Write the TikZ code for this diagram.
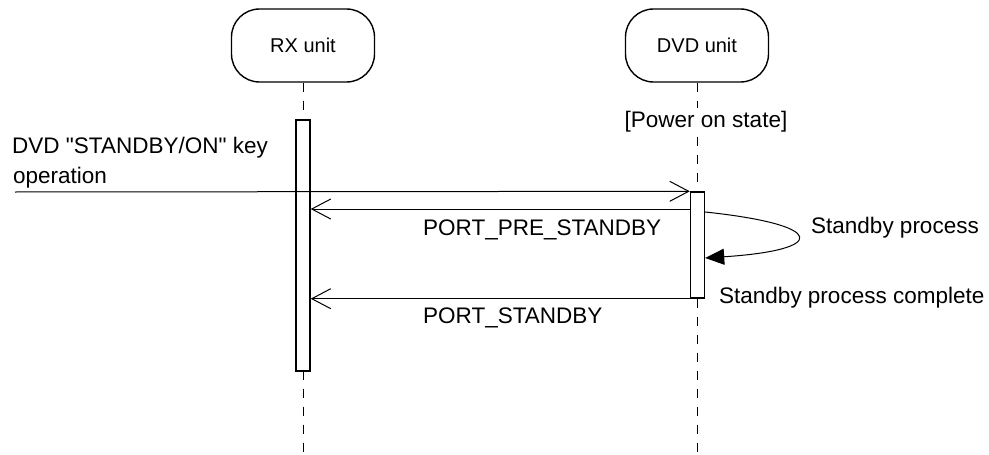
\documentclass[tikz,border=0pt]{standalone}
\usepackage{fontspec}
\setmainfont{Liberation Sans}
\usetikzlibrary{arrows.meta, positioning, calc}

\begin{document}
\begin{tikzpicture}[
    x=1pt, y=-1pt,
    unit/.style={rectangle, rounded corners=28pt, minimum width=143pt, minimum height=73pt, text centered, draw=black, line width=1.4pt, font=\fontsize{20}{24}\selectfont},
    bar/.style={rectangle, minimum width=14pt, inner sep=0pt, draw=black, fill=white, line width=1.4pt},
    lifeline/.style={line width=1pt, dash pattern=on 9pt off 9pt},
    msg/.style={line width=1pt, -{Straight Barb[length=19pt, width=20pt]}},
    selfmsg/.style={line width=1pt, -{Triangle[length=19pt, width=16pt]}},
    txt/.style={font=\fontsize{22.5}{30}\selectfont, inner sep=0pt, anchor=base west}
]
    \useasboundingbox (0,0) rectangle (989,455);

    % units and lifelines
    \node (rx) [unit] at (303,45.5) {RX unit};
    \node (dvd) [unit] at (697,45.5) {DVD unit};
    \coordinate (rxend) at (303,455);
    \coordinate (dvdend) at (697,455);
    \draw [lifeline] (rx) -- (rxend);
    \draw [lifeline] (dvd) -- (dvdend);
    \node (state) [txt, anchor=base, fill=white, inner sep=3pt] at (706,127) {[Power on state]};

    % activation bars
    \node (rxbar) [bar, minimum height=251pt] at (303,245.5) {};
    \node (dvdbar) [bar, minimum height=106pt] at (697.5,245) {};

    % messages
    \coordinate (keystart) at (15,192);
    \coordinate (pre) at (0,209);
    \coordinate (selfout) at (0,212);
    \coordinate (selfin) at (0,258);
    \draw [msg] (keystart) -- (dvdbar.north west);
    \draw [msg] (dvdbar.west |- pre) -- (rxbar.east |- pre);
    \draw [selfmsg] (dvdbar.east |- selfout) .. controls (828,225) and (828,250) .. (dvdbar.east |- selfin);
    \draw [msg] (dvdbar.south west) -- (rxbar.east |- dvdbar.south west);

    % labels
    \node (keyline) [txt] at (12,153) {DVD \textquotedbl STANDBY/ON\textquotedbl{} key};
    \node (keyop) [txt] at ($(keyline.base west)+(1,30)$) {operation};
    \node (prelbl) [txt] at (423,235) {PORT\_PRE\_STANDBY};
    \node (stdlbl) [txt] at (423,323) {PORT\_STANDBY};
    \node (proclbl) [txt] at (811,233) {Standby process};
    \node (donelbl) [txt] at (719,303) {Standby process complete};
\end{tikzpicture}
\end{document}
